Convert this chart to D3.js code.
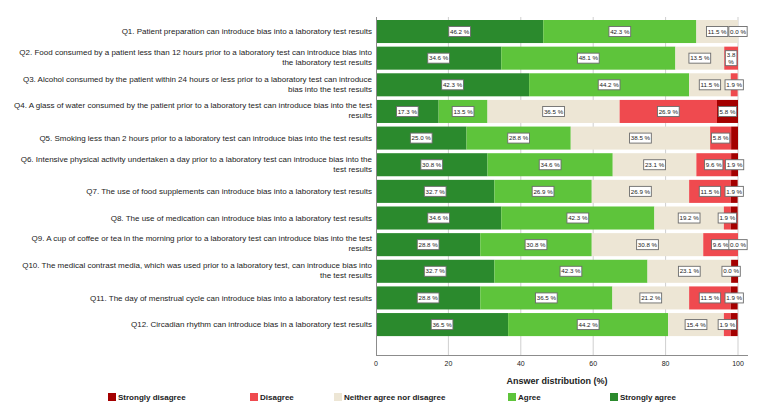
<!DOCTYPE html>
<html lang="en">
<head>
<meta charset="UTF-8">
<title>Answer distribution</title>
<script src="https://d3js.org/d3.v7.min.js"></script>
<style>
  body { margin: 0; background: #fff; font-family: Arial, "Liberation Sans", sans-serif; }
  svg { display: block; }
</style>
</head>
<body>
<svg width="759" height="414"></svg>
<script>
// data - question labels, split where the original chart breaks them
const questionLines = [
  ["Q1. Patient preparation can introduce bias into a laboratory test results"],
  ["Q2. Food consumed by a patient less than 12 hours prior to a laboratory test can introduce bias into", "the laboratory test results"],
  ["Q3. Alcohol consumed by the patient within 24 hours or less prior to a laboratory test can introduce", "bias into the test results"],
  ["Q4. A glass of water consumed by the patient prior to a laboratory test can introduce bias into the test", "results"],
  ["Q5. Smoking less than 2 hours prior to a laboratory test can introduce bias into the test results"],
  ["Q6. Intensive physical activity undertaken a day prior to a laboratory test can introduce bias into the", "test results"],
  ["Q7. The use of food supplements can introduce bias into a laboratory test results"],
  ["Q8. The use of medication can introduce bias into a laboratory test results"],
  ["Q9. A cup of coffee or tea in the morning prior to a laboratory test can introduce bias into the test", "results"],
  ["Q10. The medical contrast media, which was used prior to a laboratory test, can introduce bias into", "the test results"],
  ["Q11. The day of menstrual cycle can introduce bias into a laboratory test results"],
  ["Q12. Circadian rhythm can introduce bias in a laboratory test results"]
];
const questions = questionLines.map(l => l.join(" "));
const stronglyAgree    = [46.2, 34.6, 42.3, 17.3, 25.0, 30.8, 32.7, 34.6, 28.8, 32.7, 28.8, 36.5];
const agree            = [42.3, 48.1, 44.2, 13.5, 28.8, 34.6, 26.9, 42.3, 30.8, 42.3, 36.5, 44.2];
const neither          = [11.5, 13.5, 11.5, 36.5, 38.5, 23.1, 26.9, 19.2, 30.8, 23.1, 21.2, 15.4];
const disagree         = [0.0, 3.8, 1.9, 26.9, 5.8, 9.6, 11.5, 1.9, 9.6, 0.0, 11.5, 1.9];
const stronglyDisagree = [0.0, 0.0, 0.0, 5.8, 1.9, 1.9, 1.9, 1.9, 0.0, 1.9, 1.9, 1.9];

const seriesNames = ["Strongly agree", "Agree", "Neither agree nor disagree", "Disagree", "Strongly disagree"];
const seriesValues = [stronglyAgree, agree, neither, disagree, stronglyDisagree];
const seriesColors = ["#2b8a2d", "#5ec43b", "#ede6d5", "#ef4a4f", "#a40000"];
const xTicks = [0, 20, 40, 60, 80, 100];

// legend is listed left to right in reverse order
const legendOrder = [4, 3, 2, 1, 0];
const legendX = [108, 250, 334, 508, 610];

const svg = d3.select("svg");
const x = d3.scaleLinear().domain([0, 100]).range([376, 738]);
const y = d3.scaleBand().domain(questions).range([18.2, 337.9]).paddingInner(0.135).paddingOuter(0.0675);
const plotTop = 17, axisY = 355;

// grid
svg.append("g").selectAll("line").data(xTicks.slice(1)).join("line")
  .attr("x1", d => x(d)).attr("x2", d => x(d))
  .attr("y1", plotTop).attr("y2", axisY)
  .attr("stroke", "#cfcfcf").attr("stroke-width", 1);

// stacked bars
const rows = questions.map((q, i) => {
  let acc = 0;
  return seriesValues.map((vals, s) => {
    const seg = { q, s, v: vals[i], x0: acc, x1: acc + vals[i] };
    acc += vals[i];
    return seg;
  });
});

const barG = svg.append("g");
rows.forEach(row => {
  barG.selectAll(null).data(row.filter(d => d.v > 0)).join("rect")
    .attr("x", d => x(d.x0))
    .attr("y", d => y(d.q))
    .attr("width", d => x(d.x1) - x(d.x0))
    .attr("height", y.bandwidth())
    .attr("fill", d => seriesColors[d.s]);
});

// axes lines
svg.append("line").attr("x1", 376.5).attr("x2", 376.5).attr("y1", plotTop).attr("y2", axisY)
  .attr("stroke", "#8c8c8c");
svg.append("line").attr("x1", 376).attr("x2", 748).attr("y1", axisY + 0.5).attr("y2", axisY + 0.5)
  .attr("stroke", "#8c8c8c");

svg.append("g").selectAll("text").data(xTicks).join("text")
  .attr("x", d => x(d)).attr("y", 366)
  .attr("text-anchor", "middle")
  .attr("font-size", 7).attr("fill", "#222")
  .text(d => d);

svg.append("text")
  .attr("x", (x(0) + x(100)) / 2).attr("y", 384)
  .attr("text-anchor", "middle")
  .attr("font-size", 9).attr("font-weight", "bold").attr("fill", "#222")
  .text("Answer distribution (%)");

// value labels, skipped when they would overlap the previous one
const labG = svg.append("g");
const labFont = 6.2;
rows.forEach(row => {
  let lastRight = -Infinity;
  const cy = y(row[0].q) + y.bandwidth() / 2;
  row.forEach(d => {
    const cx = (x(d.x0) + x(d.x1)) / 2;
    const segW = x(d.x1) - x(d.x0);
    const txt = d.v.toFixed(1) + " %";
    const t = labG.append("text").attr("font-size", labFont).text(txt);
    const tw = t.node().getComputedTextLength();
    let bw = tw + 2.5, bh = 10, lines = [txt];
    if (bw > segW && segW >= 10) {
      lines = [d.v.toFixed(1), "%"];
      t.text(lines[0]);
      bw = t.node().getComputedTextLength() + 3;
      bh = 15;
    }
    t.remove();
    const left = cx - bw / 2;
    if (left < lastRight - 2.5) return;
    lastRight = left + bw;
    labG.append("rect")
      .attr("x", left).attr("y", cy - bh / 2)
      .attr("width", bw).attr("height", bh)
      .attr("fill", "#fff").attr("stroke", "#6b6b6b").attr("stroke-width", 0.9);
    lines.forEach((ln, k) => {
      labG.append("text")
        .attr("x", cx).attr("y", cy - (lines.length - 1) * 3.5 + k * 7 + 2.2)
        .attr("text-anchor", "middle")
        .attr("font-size", labFont).attr("fill", "#222")
        .text(ln);
    });
  });
});

// question labels
const qG = svg.append("g");
questionLines.forEach((lines, i) => {
  const cy = y(questions[i]) + y.bandwidth() / 2;
  const t = qG.append("text").attr("text-anchor", "end").attr("font-size", 8).attr("fill", "#222");
  lines.forEach((ln, k) => {
    t.append("tspan").attr("x", 372)
      .attr("y", cy - (lines.length - 1) * 5 + k * 10 + 2.8 - (lines.length > 1 ? 1 : 0))
      .text(ln);
  });
});

// legend
const legG = svg.append("g");
legendOrder.forEach((s, k) => {
  legG.append("rect").attr("x", legendX[k]).attr("y", 393).attr("width", 8).attr("height", 8)
    .attr("fill", seriesColors[s]);
  legG.append("text").attr("x", legendX[k] + 10).attr("y", 400)
    .attr("font-size", 8).attr("font-weight", "bold").attr("fill", "#222")
    .text(seriesNames[s]);
});
</script>
</body>
</html>
